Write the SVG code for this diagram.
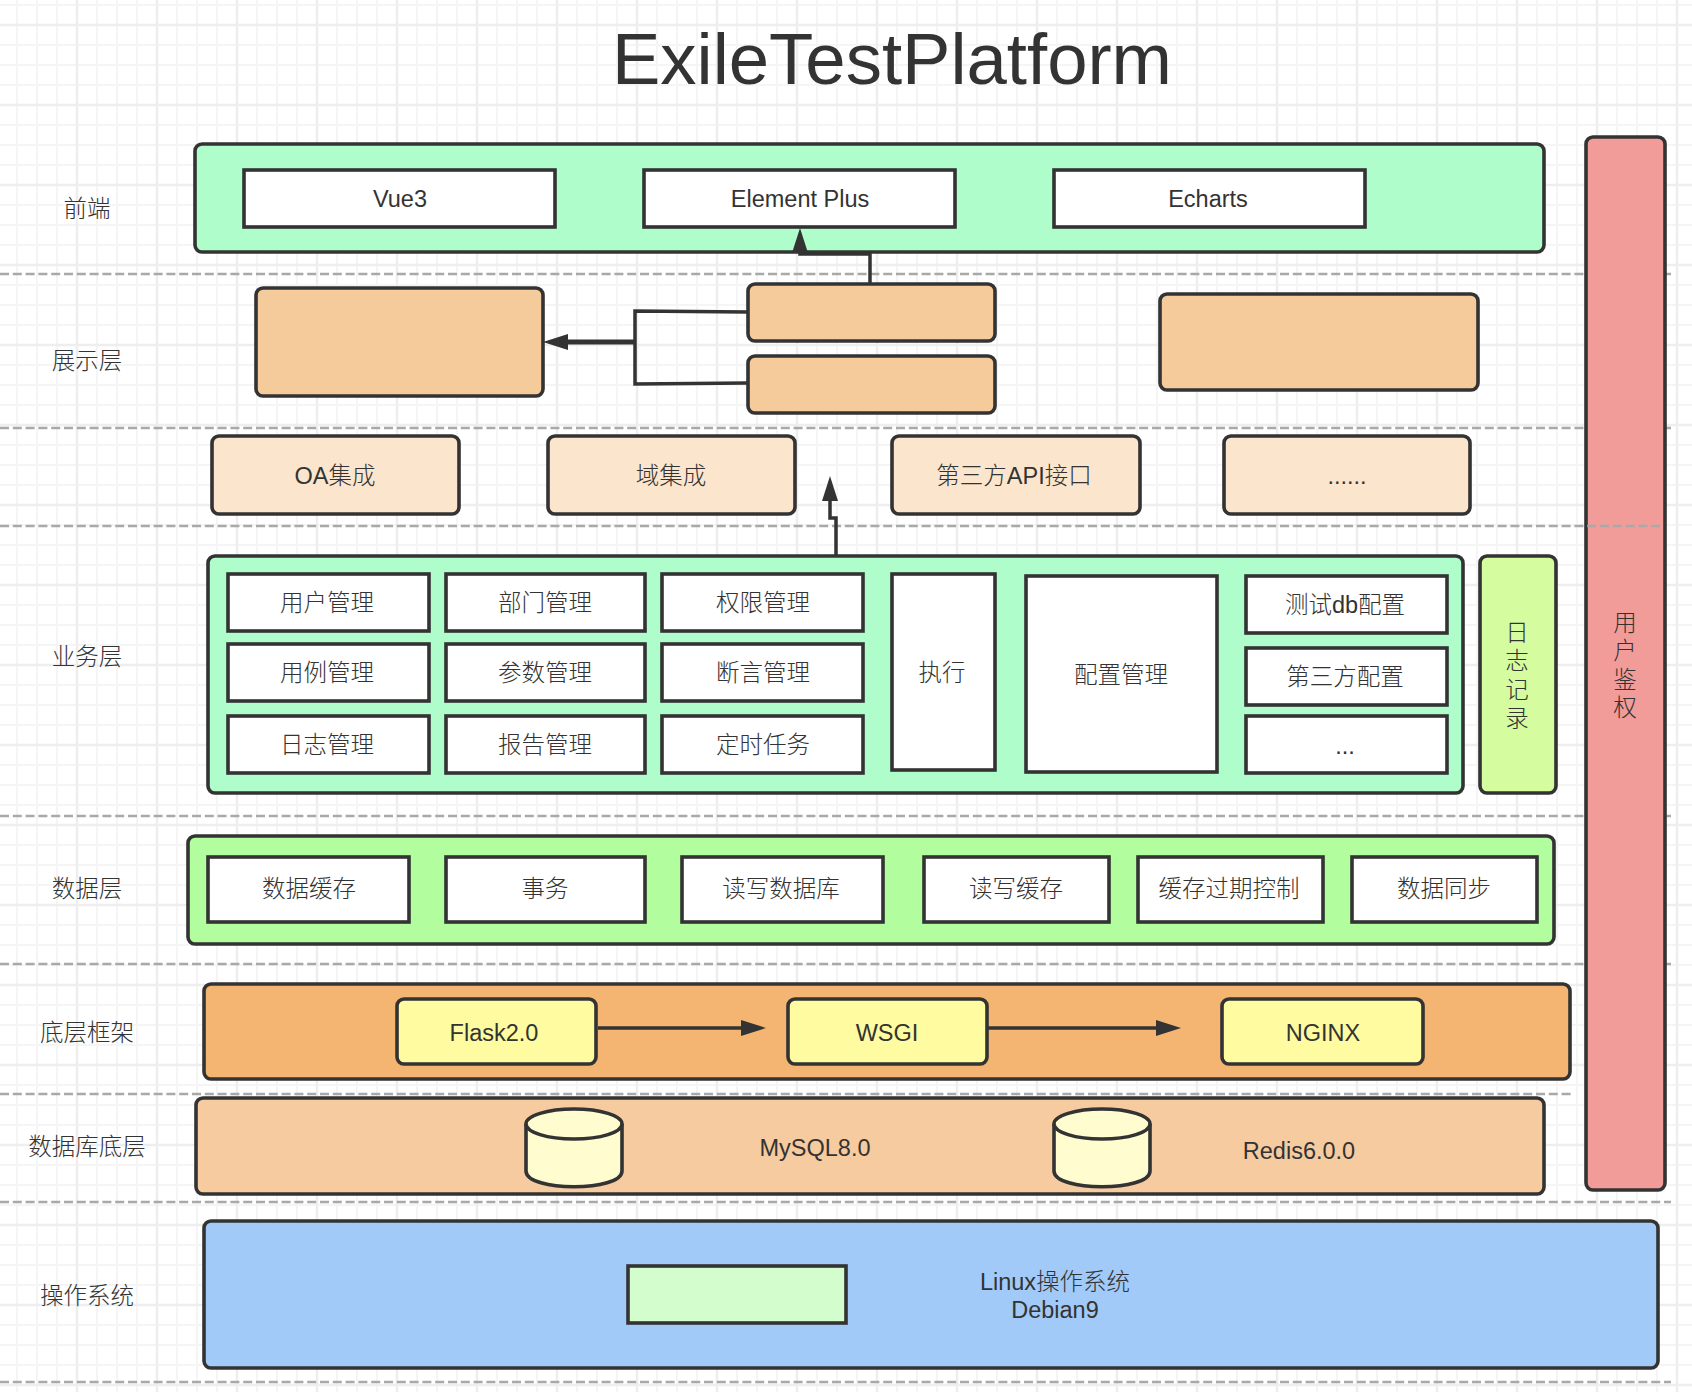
<svg xmlns="http://www.w3.org/2000/svg" width="1692" height="1392" viewBox="0 0 1692 1392">
<style>
text{font-family:"Liberation Sans","Noto Sans CJK SC",sans-serif;font-size:23.5px;font-weight:300;fill:#333;text-anchor:middle;dominant-baseline:central;transform:translateY(1.3px)}
.b{stroke:#333;stroke-width:3.6}
.cell{fill:#fff;stroke:#333;stroke-width:3.6}
.front{fill:#aefdcb}
.pres{fill:#f6cb9c}
.int{fill:#fbe5cd}
.cyl{fill:#fffdd0;stroke:#333;stroke-width:3.6}
.fw{fill:#fefba0}
.dash{stroke:#a9a9a9;stroke-width:2.5;stroke-dasharray:9 3.8;fill:none}
.conn{fill:none;stroke:#333;stroke-width:3.5}
</style>
<defs>
<pattern id="grid" patternUnits="userSpaceOnUse" x="-3" y="-55" width="80" height="80">
<path d="M20 0V80M40 0V80M60 0V80M0 20H80M0 40H80M0 60H80" stroke="#f5f5f5" stroke-width="2" fill="none"/>
<path d="M0 0V80M80 0V80M0 0H80M0 80H80" stroke="#eeeeee" stroke-width="2.5" fill="none"/>
</pattern>
<marker id="up" markerUnits="userSpaceOnUse" markerWidth="26" markerHeight="18" refX="15" refY="8" orient="auto"><path d="M0 0L25 8L0 16z" fill="#333"/></marker>
</defs>
<rect width="1692" height="1392" fill="#fff"/>
<rect width="1692" height="1392" fill="url(#grid)"/>
<g id="dividers">
<path class="dash" d="M0 274H1671M0 428H1671M0 816H1671M0 964H1671M0 1094H1572M0 1202H1671M0 1382H1671"/>
</g>
<text id="title" x="892" y="57.5" style="font-family:'Liberation Sans',sans-serif;font-size:72.5px">ExileTestPlatform</text>
<g id="layer-labels">
<text x="87" y="208">前端</text>
<text x="87" y="360">展示层</text>
<text x="87" y="656">业务层</text>
<text x="87" y="888">数据层</text>
<text x="87" y="1032">底层框架</text>
<text x="87" y="1146">数据库底层</text>
<text x="87" y="1295">操作系统</text>
</g>
<g id="auth"><rect class="b" x="1586" y="137" width="79" height="1053" rx="7" fill="#f29c9a"/>
<text x="1625" y="622">用</text><text x="1625" y="650">户</text><text x="1625" y="679">鉴</text><text x="1625" y="707">权</text></g>
<path class="dash" d="M0 526H1661"/>
<g id="frontend">
<rect class="b front" x="195" y="144" width="1349" height="108" rx="7"/>
<g id="vue3"><rect class="cell" x="244" y="170" width="311" height="57"/><text x="400" y="198">Vue3</text></g>
<g id="element-plus"><rect class="cell" x="644" y="170" width="311" height="57"/><text x="800" y="198">Element Plus</text></g>
<g id="echarts"><rect class="cell" x="1054" y="170" width="311" height="57"/><text x="1208" y="198">Echarts</text></g>
</g>
<g id="pres-big"><rect class="b pres" x="256" y="288" width="287" height="108" rx="7"/></g>
<g id="pres-s1"><rect class="b pres" x="748" y="284" width="247" height="57" rx="7"/></g>
<g id="pres-s2"><rect class="b pres" x="748" y="356" width="247" height="57" rx="7"/></g>
<g id="pres-right"><rect class="b pres" x="1160" y="294" width="318" height="96" rx="7"/></g>
<g id="oa"><rect class="b int" x="212" y="436" width="247" height="78" rx="7"/><text x="335" y="475">OA集成</text></g>
<g id="domain"><rect class="b int" x="548" y="436" width="247" height="78" rx="7"/><text x="671" y="475">域集成</text></g>
<g id="api"><rect class="b int" x="892" y="436" width="248" height="78" rx="7"/><text x="1014" y="475">第三方API接口</text></g>
<g id="more"><rect class="b int" x="1224" y="436" width="246" height="78" rx="7"/><text x="1347" y="475">......</text></g>
<g id="business">
<rect class="b front" x="208" y="556" width="1255" height="237" rx="7"/>
<g id="c11"><rect class="cell" x="228" y="574" width="201" height="57"/><text x="327" y="602">用户管理</text></g>
<g id="c12"><rect class="cell" x="446" y="574" width="199" height="57"/><text x="545" y="602">部门管理</text></g>
<g id="c13"><rect class="cell" x="662" y="574" width="201" height="57"/><text x="763" y="602">权限管理</text></g>
<g id="c21"><rect class="cell" x="228" y="644" width="201" height="57"/><text x="327" y="672">用例管理</text></g>
<g id="c22"><rect class="cell" x="446" y="644" width="199" height="57"/><text x="545" y="672">参数管理</text></g>
<g id="c23"><rect class="cell" x="662" y="644" width="201" height="57"/><text x="763" y="672">断言管理</text></g>
<g id="c31"><rect class="cell" x="228" y="716" width="201" height="57"/><text x="327" y="744">日志管理</text></g>
<g id="c32"><rect class="cell" x="446" y="716" width="199" height="57"/><text x="545" y="744">报告管理</text></g>
<g id="c33"><rect class="cell" x="662" y="716" width="201" height="57"/><text x="763" y="744">定时任务</text></g>
<g id="exec"><rect class="cell" x="892" y="574" width="103" height="196"/><text x="942" y="672">执行</text></g>
<g id="config"><rect class="cell" x="1026" y="576" width="191" height="196"/><text x="1121" y="674">配置管理</text></g>
<g id="cfg1"><rect class="cell" x="1246" y="576" width="201" height="57"/><text x="1345" y="604">测试db配置</text></g>
<g id="cfg2"><rect class="cell" x="1246" y="648" width="201" height="57"/><text x="1345" y="676">第三方配置</text></g>
<g id="cfg3"><rect class="cell" x="1246" y="716" width="201" height="57"/><text x="1345" y="745">...</text></g>
</g>
<g id="log"><rect class="b" x="1480" y="556" width="76" height="237" rx="7" fill="#d5fd9f"/>
<text x="1517" y="632">日</text><text x="1517" y="660">志</text><text x="1517" y="689">记</text><text x="1517" y="718">录</text></g>
<g id="data">
<rect class="b" x="188" y="836" width="1366" height="108" rx="7" fill="#b2fd9e"/>
<g id="d1"><rect class="cell" x="208" y="857" width="201" height="65"/><text x="309" y="888">数据缓存</text></g>
<g id="d2"><rect class="cell" x="446" y="857" width="199" height="65"/><text x="545" y="888">事务</text></g>
<g id="d3"><rect class="cell" x="682" y="857" width="201" height="65"/><text x="781" y="888">读写数据库</text></g>
<g id="d4"><rect class="cell" x="924" y="857" width="185" height="65"/><text x="1016" y="888">读写缓存</text></g>
<g id="d5"><rect class="cell" x="1138" y="857" width="185" height="65"/><text x="1229" y="888">缓存过期控制</text></g>
<g id="d6"><rect class="cell" x="1352" y="857" width="185" height="65"/><text x="1444" y="888">数据同步</text></g>
</g>
<g id="framework">
<rect class="b" x="204" y="984" width="1366" height="95" rx="7" fill="#f4b573"/>
<g id="flask"><rect class="b fw" x="397" y="999" width="199" height="65" rx="7"/><text x="494" y="1032">Flask2.0</text></g>
<g id="wsgi"><rect class="b fw" x="788" y="999" width="199" height="65" rx="7"/><text x="887" y="1032">WSGI</text></g>
<g id="nginx"><rect class="b fw" x="1222" y="999" width="201" height="65" rx="7"/><text x="1323" y="1032">NGINX</text></g>
</g>
<g id="database">
<rect class="b pres" x="196" y="1098" width="1348" height="96" rx="7" style="fill:#f6cb9f"/>
<g id="mysql"><path class="cyl" d="M526 1124V1171C526 1192 622 1192 622 1171V1124"/><ellipse class="cyl" cx="574" cy="1124" rx="48" ry="15"/><text x="815" y="1147">MySQL8.0</text></g>
<g id="redis"><path class="cyl" d="M1054 1124V1171C1054 1192 1150 1192 1150 1171V1124"/><ellipse class="cyl" cx="1102" cy="1124" rx="48" ry="15"/><text x="1299" y="1150">Redis6.0.0</text></g>
</g>
<g id="os">
<rect class="b" x="204" y="1221" width="1454" height="147" rx="7" fill="#a1caf8"/>
<g id="os-inner"><rect class="b" x="628" y="1266" width="218" height="57" fill="#d4fdce"/></g>
<text x="1055" y="1281">Linux操作系统</text><text x="1055" y="1309">Debian9</text>
</g>
<g id="connectors">
<path class="conn" d="M870 283V254H800V238" marker-end="url(#up)"/>
<path class="conn" style="stroke-width:5" d="M635 342H553" marker-end="url(#up)"/>
<path class="conn" d="M748 312L635 311V384L748 383"/>
<path class="conn" d="M836 555V518H830V486" marker-end="url(#up)"/>
<path class="conn" d="M598 1028H756" marker-end="url(#up)"/>
<path class="conn" d="M987 1028H1171" marker-end="url(#up)"/>
</g>
</svg>
